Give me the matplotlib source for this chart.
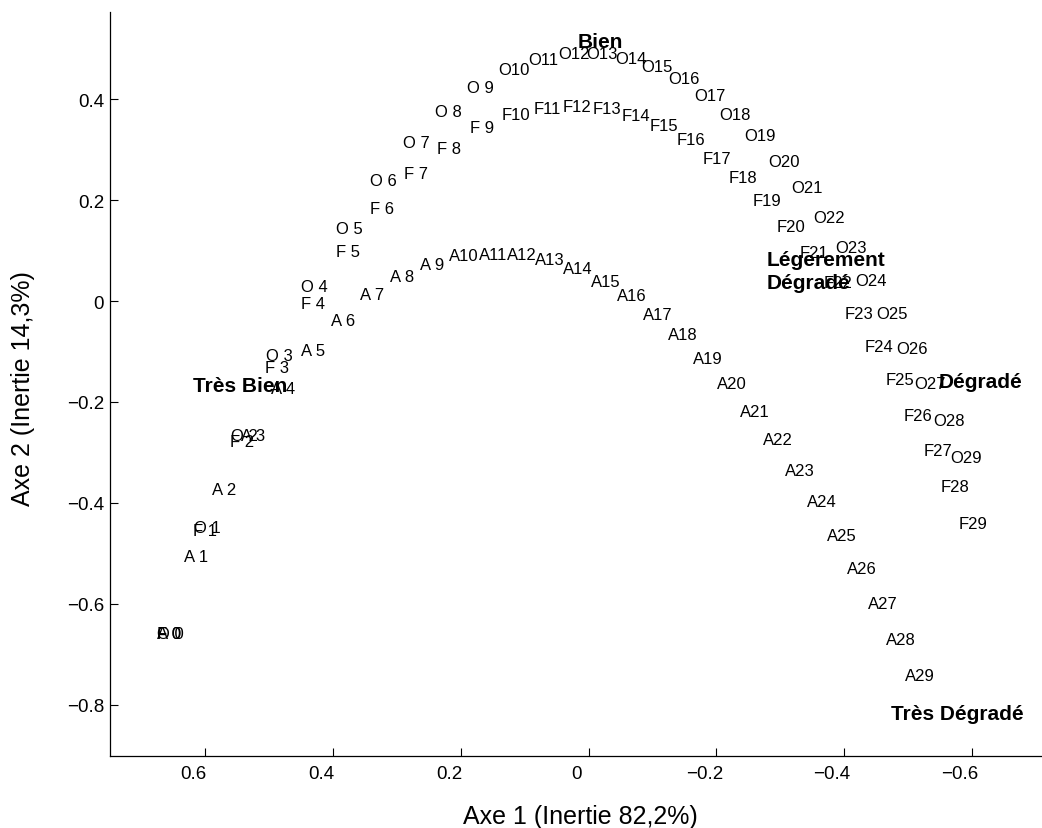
import matplotlib
matplotlib.use("Agg")
import matplotlib.pyplot as plt
from matplotlib.transforms import ScaledTranslation

plt.rcParams['font.family'] = ['Liberation Sans', 'DejaVu Sans']

# coordonnees factorielles (axe 1, axe 2) des points A, F, O de 0 a 29
A_x = [0.676, 0.634, 0.590, 0.545, 0.498, 0.451, 0.404, 0.358, 0.311, 0.264,
       0.218, 0.172, 0.128, 0.084, 0.040, -0.003, -0.044, -0.085, -0.125, -0.163,
       -0.201, -0.237, -0.273, -0.308, -0.342, -0.374, -0.405, -0.437, -0.466, -0.495]
A_y = [-0.658, -0.506, -0.374, -0.267, -0.173, -0.098, -0.039, 0.012, 0.048, 0.073,
       0.090, 0.093, 0.092, 0.082, 0.065, 0.039, 0.011, -0.026, -0.067, -0.113,
       -0.163, -0.219, -0.275, -0.335, -0.398, -0.464, -0.531, -0.600, -0.671, -0.742]

F_x = [0.676, 0.620, 0.562, 0.507, 0.451, 0.396, 0.342, 0.289, 0.237, 0.185,
       0.136, 0.086, 0.040, -0.007, -0.052, -0.095, -0.138, -0.179, -0.219, -0.257,
       -0.295, -0.331, -0.368, -0.401, -0.433, -0.465, -0.494, -0.524, -0.552, -0.579]
F_y = [-0.658, -0.454, -0.279, -0.131, -0.005, 0.098, 0.184, 0.252, 0.303, 0.343,
       0.369, 0.382, 0.386, 0.382, 0.368, 0.347, 0.320, 0.283, 0.244, 0.199,
       0.147, 0.096, 0.037, -0.024, -0.090, -0.156, -0.226, -0.297, -0.367, -0.440]

O_x = [0.676, 0.618, 0.560, 0.505, 0.450, 0.395, 0.342, 0.291, 0.240, 0.191,
       0.142, 0.094, 0.048, 0.004, -0.041, -0.083, -0.125, -0.166, -0.205, -0.244,
       -0.281, -0.317, -0.351, -0.386, -0.418, -0.450, -0.482, -0.510, -0.539, -0.566]
O_y = [-0.658, -0.448, -0.267, -0.107, 0.028, 0.143, 0.238, 0.314, 0.376, 0.423,
       0.458, 0.479, 0.491, 0.491, 0.481, 0.465, 0.440, 0.408, 0.370, 0.327,
       0.277, 0.224, 0.166, 0.106, 0.040, -0.024, -0.095, -0.164, -0.237, -0.310]

# etats (modalites supplementaires)
etats = ['Bien', 'Très Bien', 'Légerement\nDégradé', 'Dégradé', 'Très Dégradé']
etats_x = [0.018, 0.620, -0.279, -0.548, -0.474]
etats_y = [0.515, -0.168, 0.060, -0.159, -0.818]

xticks = [0.6, 0.4, 0.2, 0, -0.2, -0.4, -0.6]
xticklabels = ['0.6', '0.4', '0.2', '0', '\u22120.2', '\u22120.4', '\u22120.6']
yticks = [-0.8, -0.6, -0.4, -0.2, 0, 0.2, 0.4]
yticklabels = ['\u22120.8', '\u22120.6', '\u22120.4', '\u22120.2', '0', '0.2', '0.4']

fig = plt.figure(figsize=(10.42, 8.29), dpi=100)
ax = fig.add_axes([0.1059, 0.0872, 0.8941, 0.8967])

for prefix, xs, ys in [('A', A_x, A_y), ('F', F_x, F_y), ('O', O_x, O_y)]:
    for i, (x, y) in enumerate(zip(xs, ys)):
        ax.text(x, y, '%s%2d' % (prefix, i), ha='left', va='center',
                fontsize=12, color='black')

for name, x, y in zip(etats, etats_x, etats_y):
    ax.text(x, y, name, ha='left', va='center', fontsize=15,
            fontweight='bold', linespacing=1.25, color='black')

ax.set_xlim(0.749, -0.710)
ax.set_ylim(-0.901, 0.572)

for s in ['top', 'right']:
    ax.spines[s].set_visible(False)
for s in ['left', 'bottom']:
    ax.spines[s].set_linewidth(0.9)

ax.set_xticks(xticks)
ax.set_xticklabels(xticklabels)
ax.set_yticks(yticks)
ax.set_yticklabels(yticklabels)
ax.tick_params(direction='in', length=6, width=0.8, labelsize=13.5)
ax.tick_params(axis='x', pad=6.5)
ax.tick_params(axis='y', pad=4.5)

# les etiquettes de l'axe x sont decalees vers la gauche
for lab in ax.get_xticklabels():
    lab.set_transform(lab.get_transform() + ScaledTranslation(-0.12, 0, fig.dpi_scale_trans))

ax.set_xlabel('Axe 1 (Inertie 82,2%)', fontsize=18, va='center')
ax.set_ylabel('Axe 2 (Inertie 14,3%)', fontsize=18, va='center')
ax.xaxis.set_label_coords(0.505, -0.0807)
ax.yaxis.set_label_coords(-0.0937, 0.495)

fig.savefig('out.png', dpi=100)
